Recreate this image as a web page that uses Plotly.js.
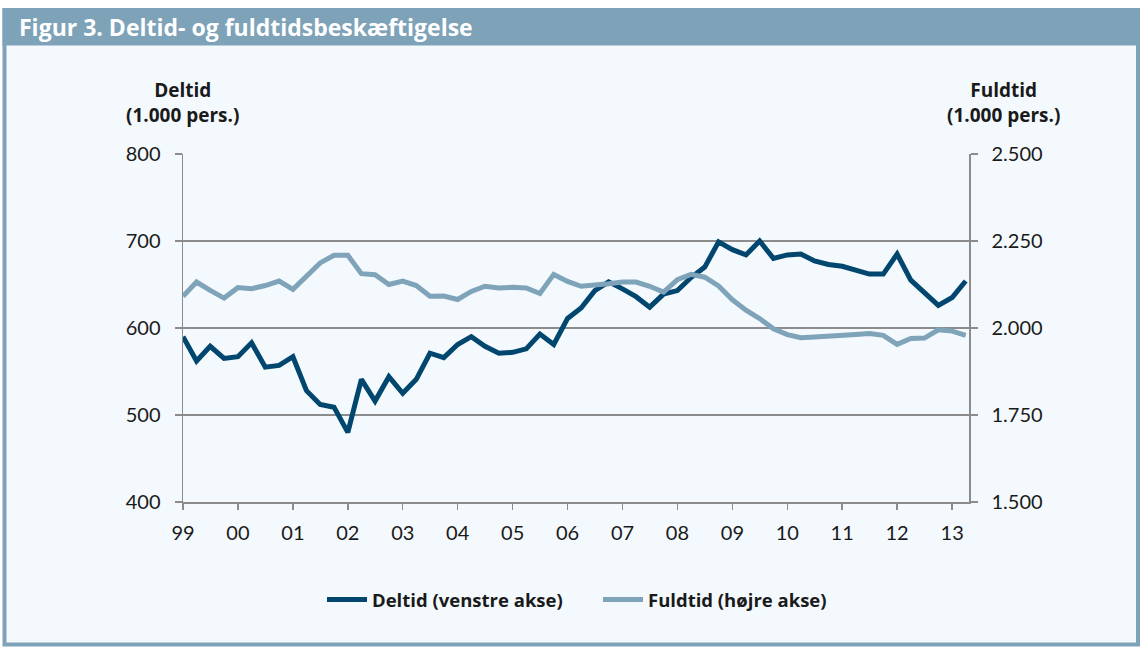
<!DOCTYPE html>
<html>
<head>
<meta charset="utf-8">
<script src="https://cdn.plot.ly/plotly-3.0.1.min.js"></script>
<style>html,body{margin:0;padding:0;background:#fff;}#chart{width:1140px;height:647px;}</style>
</head>
<body>
<div id="chart"></div>
<script>
// Quarterly data, 1999 K1 – 2013 K2
const years = [1999,2000,2001,2002,2003,2004,2005,2006,2007,2008,2009,2010,2011,2012,2013];
const quarterMonths = ['01','04','07','10'];
const yearTickLabels = ['99','00','01','02','03','04','05','06','07','08','09','10','11','12','13'];

// Deltid (1.000 pers.), left axis
const deltid = [590, 562, 579, 565, 567, 583, 555, 557, 567, 528, 512, 509, 480, 541, 516, 544,
                525, 541, 571, 566, 581, 590, 579, 571, 572, 576, 593, 581, 611, 623, 643, 653,
                645, 636, 624, 639, 643, 658, 670, 699, 690, 684, 700, 680, 684, 685, 677, 673,
                671, 666, 662, 662, 685, 655, 640, 626, 635, 654];
// Fuldtid (1.000 pers.), right axis
const fuldtid = [2091, 2132, 2108, 2086, 2116, 2113, 2122, 2135, 2111, 2148, 2187, 2209, 2209, 2156, 2153, 2125,
                 2135, 2122, 2091, 2092, 2082, 2105, 2120, 2115, 2117, 2115, 2099, 2154, 2134, 2120, 2122, 2127,
                 2132, 2132, 2120, 2103, 2139, 2154, 2146, 2121, 2081, 2051, 2027, 1998, 1981, 1972, 1974, 1976,
                 1976, 1981, 1984, 1979, 1953, 1970, 1971, 1995, 1991, 1979];

const quarters = [];
years.forEach(y => quarterMonths.forEach(m => quarters.push(y + '-' + m + '-01')));
const xq = quarters.slice(0, deltid.length);
const yearTicks = years.map(y => y + '-01-01');

const DARK = '#00466e';
const LIGHT = '#7fa4ba';
const FRAME = '#7ea2b8';
const GRID = '#8c8c8c';
const FONT = 'Lato, "Open Sans", sans-serif';
const BFONT = '"Open Sans", Lato, sans-serif';

// plot area in pixels: x 183..969, y 154..502
const L = 183, R = 969, T = 154, B = 502;
const px = X => (X - L) / (R - L);
const py = Y => (B - Y) / (B - T);

const traces = [
  {x: xq, y: deltid, name: 'Deltid (venstre akse)', type: 'scatter', mode: 'lines',
   line: {color: DARK, width: 5}, yaxis: 'y'},
  {x: xq, y: fuldtid, name: 'Fuldtid (højre akse)', type: 'scatter', mode: 'lines',
   line: {color: LIGHT, width: 5}, yaxis: 'y2'}
];

const layout = {
  width: 1140, height: 647,
  margin: {l: L, r: 1140 - R, t: T, b: 647 - B, pad: 0},
  paper_bgcolor: '#ffffff',
  plot_bgcolor: 'rgba(0,0,0,0)',
  separators: ',.',
  font: {family: FONT, color: '#1a1a1a'},
  title: {text: 'Figur 3. Deltid- og fuldtidsbeskæftigelse', xref: 'container', yref: 'container',
          x: 19 / 1140, xanchor: 'left', y: 1 - 28 / 647, yanchor: 'middle',
          font: {family: BFONT, size: 23, color: '#ffffff', weight: 700}},
  xaxis: {type: 'date', range: ['1999-01-01', '2013-04-23'],
          tickvals: yearTicks, ticktext: yearTickLabels,
          ticks: 'outside', ticklen: 6, tickwidth: 1.5, tickcolor: GRID,
          showline: true, linecolor: GRID, linewidth: 1.5, showgrid: false, zeroline: false,
          ticklabelstandoff: 6,
          tickfont: {family: FONT, size: 20, color: '#1a1a1a'}},
  yaxis: {range: [400, 800], dtick: 100, tick0: 400,
          ticks: 'outside', ticklen: 7, tickwidth: 1.5, tickcolor: GRID,
          showline: true, linecolor: GRID, linewidth: 1.5,
          showgrid: true, gridcolor: GRID, gridwidth: 1.5, zeroline: false,
          ticklabelstandoff: 10,
          tickfont: {family: FONT, size: 20, color: '#1a1a1a'}},
  yaxis2: {range: [1500, 2500], dtick: 250, tick0: 1500, overlaying: 'y', side: 'right',
           tickformat: ',d',
           ticks: 'outside', ticklen: 7, tickwidth: 1.5, tickcolor: GRID,
           showline: true, linecolor: GRID, linewidth: 1.5,
           showgrid: false, zeroline: false,
           ticklabelstandoff: 10,
           tickfont: {family: FONT, size: 20, color: '#1a1a1a'}},
  showlegend: true,
  legend: {orientation: 'h', x: px(322), xanchor: 'left', y: py(600), yanchor: 'middle',
           bgcolor: 'rgba(0,0,0,0)', font: {family: BFONT, size: 18.5, color: '#1a1a1a', weight: 700},
           itemwidth: 40, entrywidth: 221, entrywidthmode: 'pixels', traceorder: 'normal'},
  shapes: [
    {type: 'rect', xref: 'paper', yref: 'paper', layer: 'below',
     x0: px(4.5), x1: px(1138), y0: py(644.5), y1: py(10),
     line: {color: FRAME, width: 4}, fillcolor: '#f4f9fd'},
    {type: 'rect', xref: 'paper', yref: 'paper', layer: 'below',
     x0: px(2.5), x1: px(1140), y0: py(45.5), y1: py(8),
     line: {width: 0}, fillcolor: FRAME}
  ],
  annotations: [
    {xref: 'paper', yref: 'paper', x: px(182), y: py(102), xanchor: 'center', yanchor: 'middle',
     text: 'Deltid<br>(1.000 pers.)', showarrow: false, align: 'center',
     font: {family: BFONT, size: 19, color: '#1a1a1a', weight: 700}},
    {xref: 'paper', yref: 'paper', x: px(1003), y: py(102), xanchor: 'center', yanchor: 'middle',
     text: 'Fuldtid<br>(1.000 pers.)', showarrow: false, align: 'center',
     font: {family: BFONT, size: 19, color: '#1a1a1a', weight: 700}}
  ]
};

Plotly.newPlot('chart', traces, layout, {displayModeBar: false, staticPlot: true});
</script>
</body>
</html>
